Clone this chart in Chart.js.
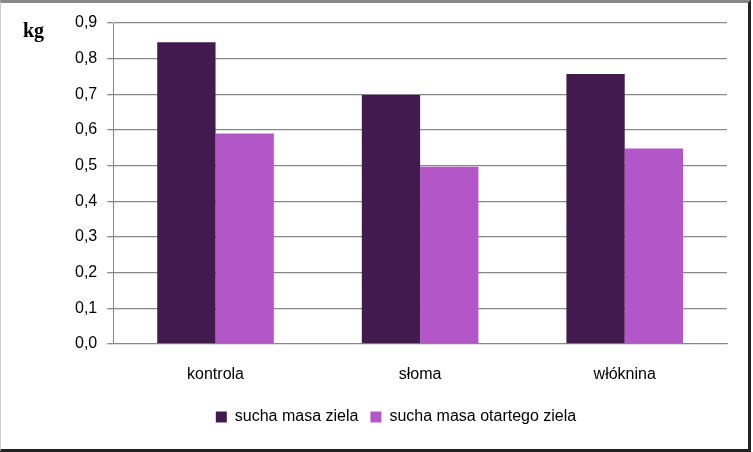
<!DOCTYPE html>
<html><head><script src="https://cdn.jsdelivr.net/npm/chart.js@4"></script>
<style>
html,body{margin:0;padding:0;background:#fff;}
#w{position:relative;width:747px;height:446px;border-top:3px solid #888;border-left:1px solid #ccc;border-right:3px solid #222;border-bottom:3px solid #222;box-sizing:content-box;}
#kg{position:absolute;left:22px;top:16px;font:bold 20px "Liberation Serif",serif;}
</style></head><body>
<div id="w"><canvas id="c" width="747" height="446"></canvas><div id="kg">kg</div></div>
<script>
const categories=["kontrola","słoma","włóknina"];
const seriesA=[0.846,0.698,0.757];
const seriesB=[0.59,0.497,0.548];
const names=["sucha masa ziela","sucha masa otartego ziela"];
const font={family:"Liberation Sans, sans-serif",size:16};
new Chart(document.getElementById('c'),{type:'bar',
data:{labels:categories,datasets:[
{label:names[0],data:seriesA,backgroundColor:'#431a4d',categoryPercentage:0.57,barPercentage:1},
{label:names[1],data:seriesB,backgroundColor:'#b357c8',categoryPercentage:0.57,barPercentage:1}]},
options:{responsive:false,animation:false,
layout:{padding:{left:64,right:21,top:20,bottom:14}},
plugins:{legend:{position:'bottom',labels:{font:font,color:'#000',boxWidth:11,boxHeight:11,padding:12}},tooltip:{enabled:false}},
scales:{x:{grid:{display:false},border:{color:'#888'},ticks:{font:font,color:'#000',padding:13}},
y:{min:0,max:0.9,ticks:{stepSize:0.1,font:font,color:'#000',padding:10,callback:v=>v.toFixed(1).replace('.',',')},
grid:{color:'#888',lineWidth:1.3,tickLength:6},border:{color:'#888'}}}}});
</script></body></html>
